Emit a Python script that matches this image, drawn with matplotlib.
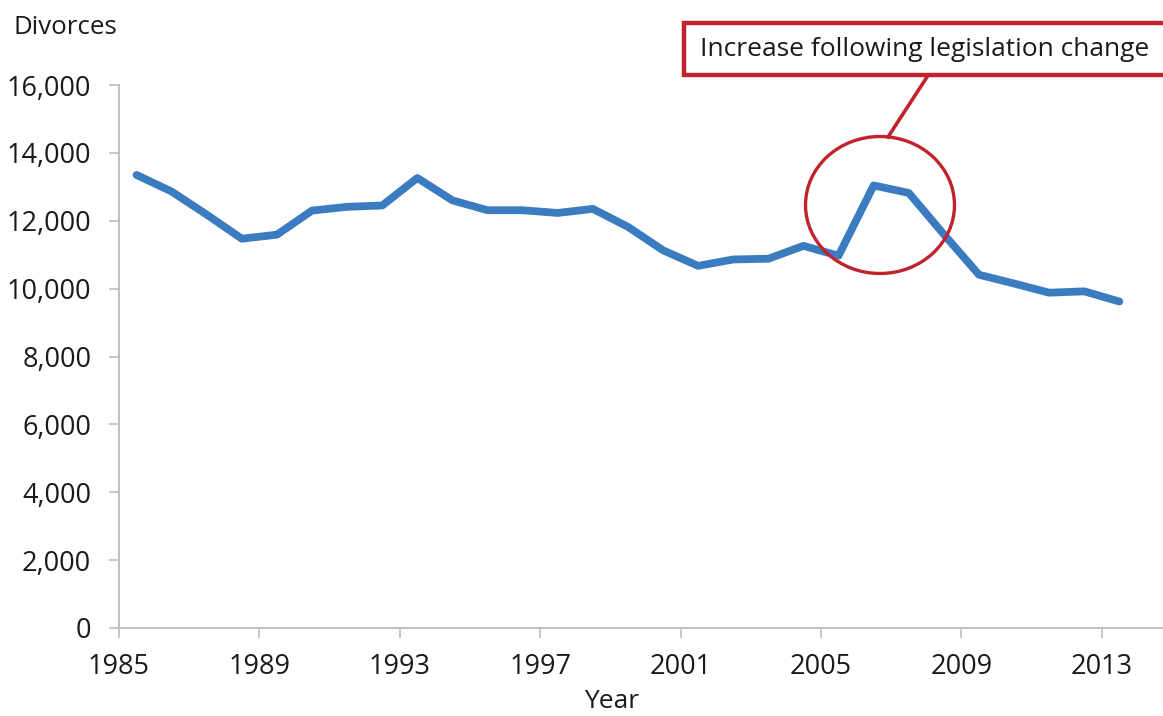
import matplotlib.pyplot as plt
from matplotlib.patches import Ellipse, Rectangle
from matplotlib.lines import Line2D
from matplotlib.ticker import FuncFormatter

plt.rcParams["font.family"] = ["Open Sans", "DejaVu Sans"]

# divorces per year
years = list(range(1985, 2014))
divorces = [
    13350, 12860, 12180, 11470, 11590, 12300, 12410, 12450, 13260, 12600,
    12310, 12310, 12230, 12350, 11820, 11130, 10670, 10860, 10880, 11260,
    10970, 13040, 12820, 11600, 10410, 10150, 9880, 9920, 9620,
]
year_ticks = [1985, 1989, 1993, 1997, 2001, 2005, 2009, 2013]
y_ticks = list(range(0, 16001, 2000))

W, H = 1163, 716
fig = plt.figure(figsize=(W / 100, H / 100), dpi=100)
ax = fig.add_axes([119 / W, 1 - 628 / H, 1 - 119 / W, (628 - 85) / H])

axis_grey = "#BFBFBF"
text_col = "#1a1a1a"
red = "#C0232B"

# Excel style: categories sit between tick marks
x = [yr + 0.5 for yr in years]
ax.plot(x, divorces, color="#3B7BBF", lw=5.6, solid_capstyle="round",
        solid_joinstyle="round")

ax.set_xlim(1985, 1985 + (W - 119) / 35.1)
ax.set_ylim(0, 16000)
ax.set_xticks(year_ticks)
ax.set_yticks(y_ticks)
ax.yaxis.set_major_formatter(FuncFormatter(lambda v, p: f"{int(v):,}"))

for side in ["top", "right"]:
    ax.spines[side].set_visible(False)
for side in ["left", "bottom"]:
    ax.spines[side].set_color(axis_grey)
    ax.spines[side].set_linewidth(1.4)
ax.tick_params(axis="both", colors=axis_grey, width=1.2, length=7,
               labelcolor=text_col, labelsize=19.5)
ax.tick_params(axis="y", pad=13)
ax.tick_params(axis="x", pad=11)

ax.set_xlabel("Year", fontsize=19, color=text_col)
ax.xaxis.set_label_coords((612 - 119) / (W - 119), -0.112)
fig.text(13 / W, 1 - 27 / H, "Divorces", fontsize=18.6, color=text_col,
         ha="left", va="center")

# circle round the 2006 spike
circle = Ellipse((880 / W, 1 - 205 / H), 149 / W, 137 / H,
                 transform=fig.transFigure, fill=False, ec=red, lw=2.4)
fig.add_artist(circle)
fig.add_artist(Line2D([888 / W, 927 / W], [1 - 137 / H, 1 - 77 / H],
                      transform=fig.transFigure, color=red, lw=2.6))

box = Rectangle((684 / W, 1 - 75 / H), (1175 - 684) / W, (75 - 23) / H,
                transform=fig.transFigure, fill=True, fc="white", ec=red,
                lw=3.2, clip_on=False)
fig.add_artist(box)
fig.text(700 / W, 1 - 50 / H, "Increase following legislation change",
         fontsize=19, color=text_col, ha="left", va="center")

fig.savefig("out.png", dpi=100)
